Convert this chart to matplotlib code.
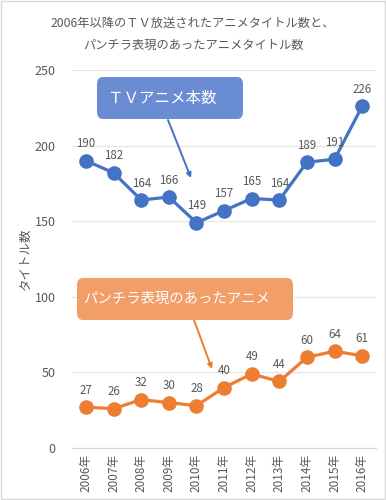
import matplotlib
matplotlib.use("Agg")
import matplotlib.pyplot as plt
from matplotlib.patches import FancyBboxPatch, Rectangle

plt.rcParams['font.family'] = ['Noto Sans CJK JP', 'DejaVu Sans']

YEARS = ["2006年", "2007年", "2008年", "2009年", "2010年", "2011年",
         "2012年", "2013年", "2014年", "2015年", "2016年"]
TV_ANIME = [190, 182, 164, 166, 149, 157, 165, 164, 189, 191, 226]
PANCHIRA = [27, 26, 32, 30, 28, 40, 49, 44, 60, 64, 61]

BLUE = '#4472C4'
ORANGE = '#ED7D31'
GRAY = '#595959'

fig = plt.figure(figsize=(3.86, 5.0), dpi=100)
fig.patches.append(Rectangle((0.002, 0.002), 0.996, 0.996, transform=fig.transFigure,
                             fill=False, edgecolor='#D9D9D9', linewidth=1))
ax = fig.add_axes([0.187, 0.104, 0.787, 0.756])

x = list(range(len(YEARS)))
ax.plot(x, TV_ANIME, color=BLUE, lw=2.3, marker='o', ms=9.5, zorder=3)
ax.plot(x, PANCHIRA, color=ORANGE, lw=2.3, marker='o', ms=9.5, zorder=3)

for xi, v in zip(x, TV_ANIME):
    ax.annotate(str(v), (xi, v), xytext=(0, 7.5), textcoords='offset points',
                ha='center', va='bottom', fontsize=8.3, color=GRAY)
for xi, v in zip(x, PANCHIRA):
    ax.annotate(str(v), (xi, v), xytext=(0, 7.5), textcoords='offset points',
                ha='center', va='bottom', fontsize=8.3, color=GRAY)

ax.set_xlim(-0.5, len(YEARS) - 0.5)
ax.set_ylim(0, 250)
ax.set_yticks([0, 50, 100, 150, 200, 250])
ax.set_xticks(x)
ax.set_xticklabels(YEARS, rotation=90, fontsize=8.5, color=GRAY)
ax.tick_params(axis='y', labelsize=9, colors=GRAY, length=0, pad=12)
ax.tick_params(axis='x', length=0, pad=4)
ax.grid(axis='y', color='#E6E6E6', lw=0.9)
ax.set_axisbelow(True)
for s in ['top', 'right', 'left']:
    ax.spines[s].set_visible(False)
ax.spines['bottom'].set_color('#D9D9D9')
ax.set_ylabel('タイトル数', fontsize=9, color=GRAY, labelpad=2)

fig.text(0.5, 0.932, '2006年以降のＴＶ放送されたアニメタイトル数と、\nパンチラ表現のあったアニメタイトル数',
         ha='center', va='center', fontsize=8.8, color=GRAY, linespacing=1.9)

# callout boxes
def box(x0, y0, x1, y1, color, text, pad, size):
    w = (x1 - x0) / 386
    h = (y1 - y0) / 500
    bx = FancyBboxPatch((x0 / 386, 1 - y1 / 500), w, h,
                        boxstyle='round,pad=0,rounding_size=0.015',
                        transform=fig.transFigure, facecolor=color, edgecolor='none')
    fig.patches.append(bx)
    fig.text((x0 + pad) / 386, 1 - (y0 + y1) / 2 / 500, text, ha='left', va='center',
             fontsize=size, color='white')

box(97, 77, 243, 119, '#6A8CD2', 'ＴＶアニメ本数', 11, 11.2)
box(77, 278, 293, 320, '#F19E68', 'パンチラ表現のあったアニメ', 6, 10.4)

def arrow(x0, y0, x1, y1, color):
    ax.annotate('', xy=(x1 / 386, 1 - y1 / 500), xycoords='figure fraction',
                xytext=(x0 / 386, 1 - y0 / 500), textcoords='figure fraction',
                arrowprops=dict(arrowstyle='-|>', color=color, lw=1.4,
                                mutation_scale=7, shrinkA=0, shrinkB=0))

arrow(168, 120, 191, 178, BLUE)
arrow(194, 320, 212, 369, ORANGE)

fig.savefig('out.png', dpi=100)
